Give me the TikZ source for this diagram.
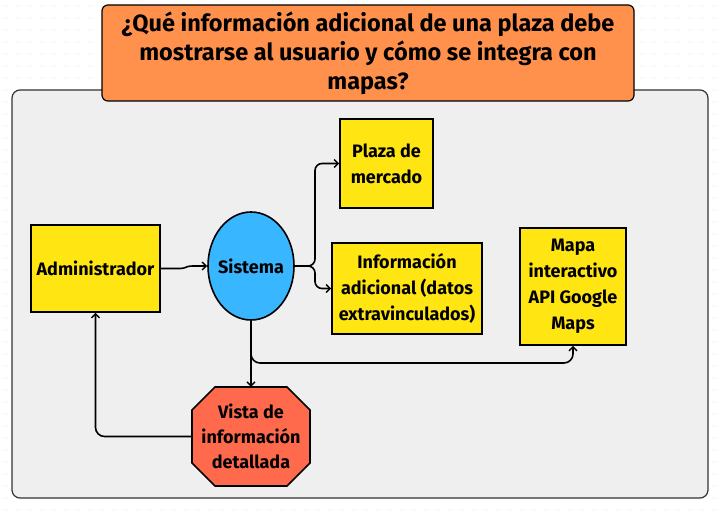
\documentclass[tikz,border=0pt]{standalone}
\usepackage{fontspec}
\setmainfont{Fira Sans}
\usetikzlibrary{shapes.geometric,arrows.meta}
\definecolor{boxyellow}{HTML}{FFE612}
\definecolor{sysblue}{HTML}{38B6FF}
\definecolor{titleorange}{HTML}{FF914D}
\definecolor{vistared}{HTML}{FF6A4D}
\definecolor{panelgray}{HTML}{EFEFEF}
\definecolor{dotgray}{HTML}{DADADA}
\tikzset{
  box/.style={draw=black, line width=1.6pt, fill=boxyellow, align=center,
    font=\fontsize{18}{26}\selectfont\bfseries, inner sep=0pt},
  arr/.style={draw=black, line width=1.6pt, rounded corners=7pt,
    -{Straight Barb[length=4pt,width=8pt,line width=1.4pt]}},
  octo/.style={draw=black, line width=1.6pt, fill=vistared, line join=miter}
}
\begin{document}
\begin{tikzpicture}[x=1pt,y=-1pt]
\useasboundingbox (0,0) rectangle (721,516);
\fill[white] (0,0) rectangle (721,516);
\foreach \i in {0,...,60} {\foreach \j in {0,...,43} {\fill[dotgray] (6+12*\i,6+12*\j) circle (0.6pt);}}
% panel
\node[draw=black!80, line width=1.2pt, fill=panelgray, rounded corners=8pt,
  minimum width=696pt, minimum height=408pt, inner sep=0pt] (panel) at (360,294) {};
% title
\node[draw=black, line width=1.2pt, fill=titleorange, rounded corners=6pt,
  minimum width=532pt, minimum height=96pt, inner sep=0pt, align=center,
  font=\fontsize{23.5}{29}\selectfont\bfseries] (title) at (368,53)
  {¿Qué información adicional de una plaza debe\\mostrarse al usuario y cómo se integra con\\mapas?};
% nodes
\node[box, minimum width=93pt, minimum height=89pt] (plaza) at (386.5,163.5) {Plaza de\\mercado};
\node[box, minimum width=150pt, minimum height=91pt] (info) at (407,288.5) {Información\\adicional (datos\\extravinculados)};
\node[box, minimum width=106pt, minimum height=117pt] (mapa) at (573,286.5) {Mapa\\interactivo\\API Google\\Maps};
\node[box, minimum width=129pt, minimum height=87pt] (admin) at (95.5,268.5) {Administrador};
\node[draw=black, line width=1.6pt, fill=sysblue, ellipse, minimum width=86pt, minimum height=108pt,
  inner xsep=-5pt, inner ysep=0pt, font=\fontsize{18}{20}\selectfont\bfseries] (sistema) at (251,266) {Sistema};
% octagon shape for the "Vista" node (x 192..310, y 387..486)
\draw[octo] (215,387) -- (287,387) -- (310,410) -- (310,463) -- (287,486)
  -- (215,486) -- (192,463) -- (192,410) -- cycle;
\node[minimum width=118pt, minimum height=99pt, inner sep=0pt, align=center,
  font=\fontsize{18}{25}\selectfont\bfseries] (vista) at (251,436.5) {Vista de\\información\\detallada};
% connectors
\coordinate (j1) at (180,268.5);
\coordinate (j2) at (192,266);
\draw[arr, sharp corners] (admin.east) -- (j1) .. controls (186,268.5) and (186,266) .. (j2) -- (sistema.west);
\coordinate (b1) at (315,266);
\draw[arr] (sistema.east) -- (b1) |- (plaza.west);
\draw[arr] (sistema.east) -- (b1) |- (info.west);
\draw[arr] (sistema.south) -- (vista.north);
\coordinate (m1) at (573,363);
\draw[arr, rounded corners=9pt] (sistema.south) |- (m1) -- (mapa.south);
\draw[arr, rounded corners=9pt] (vista.west) -| (admin.south);
\end{tikzpicture}
\end{document}
